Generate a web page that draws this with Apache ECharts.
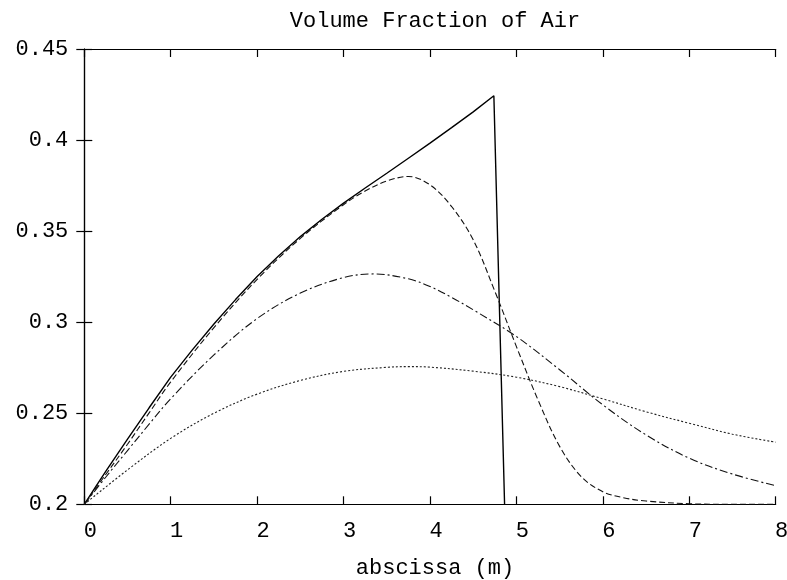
<!DOCTYPE html>
<html>
<head>
<meta charset="utf-8">
<script src="https://cdn.jsdelivr.net/npm/echarts@6/dist/echarts.min.js"></script>
<style>html,body{margin:0;padding:0;background:#fff;}#c{width:787px;height:580px;}</style>
</head>
<body>
<div id="c"></div>
<script>
const titleText = 'Volume Fraction of Air';
const xName = 'abscissa (m)';
const xTicks = [0,1,2,3,4,5,6,7,8];
const yTicks = [0.2,0.25,0.3,0.35,0.4,0.45];

const solidX = [0,0.125,0.25,0.375,0.5,0.75,1,1.25,1.5,1.75,2,2.25,2.5,2.75,3,3.25,3.5,3.75,4,4.25,4.5,4.739,4.863];
const solidY = [0.2,0.2092,0.2182,0.2270,0.2358,0.2530,0.2698,0.2848,0.2990,0.3124,0.3251,0.3365,0.3470,0.3565,0.3654,0.3737,0.3818,0.3900,0.3983,0.4068,0.4155,0.4243,0.2];

const dashX = [0,0.25,0.5,0.75,1,1.5,2,2.5,3,3.25,3.5,3.75,4,4.25,4.5,4.75,5,5.25,5.5,5.75,6,6.25,6.5,7,7.5,8];
const dashY = [0.2,0.2165,0.2330,0.2502,0.2672,0.2970,0.3235,0.3460,0.3645,0.3720,0.3775,0.3800,0.3754,0.3635,0.3452,0.3170,0.2866,0.2573,0.2318,0.2152,0.2069,0.2035,0.2018,0.2003,0.2,0.2];

const dashDotX = [0,0.25,0.5,0.75,1,1.5,2,2.5,3,3.35,3.75,4,4.25,4.5,5,5.5,6,6.5,7,7.5,8];
const dashDotY = [0.2,0.2150,0.2295,0.2440,0.2580,0.2820,0.3020,0.3160,0.3245,0.3265,0.3238,0.3196,0.3136,0.3068,0.2921,0.2739,0.2546,0.2381,0.2253,0.2166,0.2102];

const dotX = [0,0.5,1,1.5,2,2.5,3,3.5,3.75,4,4.5,5,5.5,6,6.5,7,7.5,8];
const dotY = [0.2,0.2189,0.2362,0.2500,0.2605,0.2680,0.2730,0.2752,0.2756,0.2753,0.2731,0.2698,0.2646,0.2579,0.2508,0.2445,0.2385,0.2341];

const zip = (xs, ys) => xs.map((x, i) => [x, ys[i]]);
const FONT = '"Liberation Mono", "DejaVu Sans Mono", monospace';
const FS = 22;

const baseAxisLine = {show: true, lineStyle: {color: '#000', width: 1.2}};
const tick = {show: true, inside: true, length: 8, lineStyle: {color: '#000', width: 1.2}};

const chart = echarts.init(document.getElementById('c'), null, {renderer: 'canvas'});
chart.setOption({
  animation: false,
  backgroundColor: '#fff',
  title: {
    text: titleText, left: 430, top: 5, textAlign: 'center',
    textStyle: {fontFamily: FONT, fontSize: FS, fontWeight: 'normal', color: '#000'}
  },
  grid: {left: 84.3, right: 11.3, top: 49, bottom: 75.7, containLabel: false, outerBoundsMode: 'none'},
  xAxis: [{
    type: 'value', min: 0, max: 8, interval: 1, position: 'bottom',
    name: xName, nameLocation: 'middle', nameGap: 53,
    nameTextStyle: {fontFamily: FONT, fontSize: FS, color: '#000', padding: [0,0,0,10]},
    axisLine: baseAxisLine, axisTick: tick, splitLine: {show: false},
    axisLabel: {fontFamily: FONT, fontSize: FS, color: '#000', margin: 16, padding: [0,0,0,12],
      formatter: v => xTicks.includes(v) ? String(v) : ''}
  }, {
    type: 'value', min: 0, max: 8, interval: 1, position: 'top',
    axisLine: baseAxisLine, axisTick: tick, splitLine: {show: false}, axisLabel: {show: false}
  }],
  yAxis: [{
    type: 'value', min: 0.2, max: 0.45, interval: 0.05, position: 'left',
    axisLine: baseAxisLine, axisTick: tick, splitLine: {show: false},
    axisLabel: {fontFamily: FONT, fontSize: FS, color: '#000', margin: 16, padding: [4,0,0,0],
      formatter: v => { const t = yTicks.find(k => Math.abs(k - v) < 1e-9); return t === undefined ? '' : String(t); }}
  }, {
    type: 'value', min: 0.2, max: 0.45, interval: 0.05, position: 'right',
    axisLine: baseAxisLine, axisTick: tick, splitLine: {show: false}, axisLabel: {show: false}
  }],
  series: [
    {type: 'line', data: zip(solidX, solidY), symbol: 'none', smooth: false,
      lineStyle: {color: '#000', width: 1.4, type: 'solid'}},
    {type: 'line', data: zip(dashX, dashY), symbol: 'none', smooth: 0.35,
      lineStyle: {color: '#111', width: 1.1, type: [6, 3]}},
    {type: 'line', data: zip(dashDotX, dashDotY), symbol: 'none', smooth: 0.35,
      lineStyle: {color: '#111', width: 1.1, type: [8, 3, 2, 3]}},
    {type: 'line', data: zip(dotX, dotY), symbol: 'none', smooth: 0.35,
      lineStyle: {color: '#222', width: 1.1, type: [2, 2]}}
  ]
});
</script>
</body>
</html>
